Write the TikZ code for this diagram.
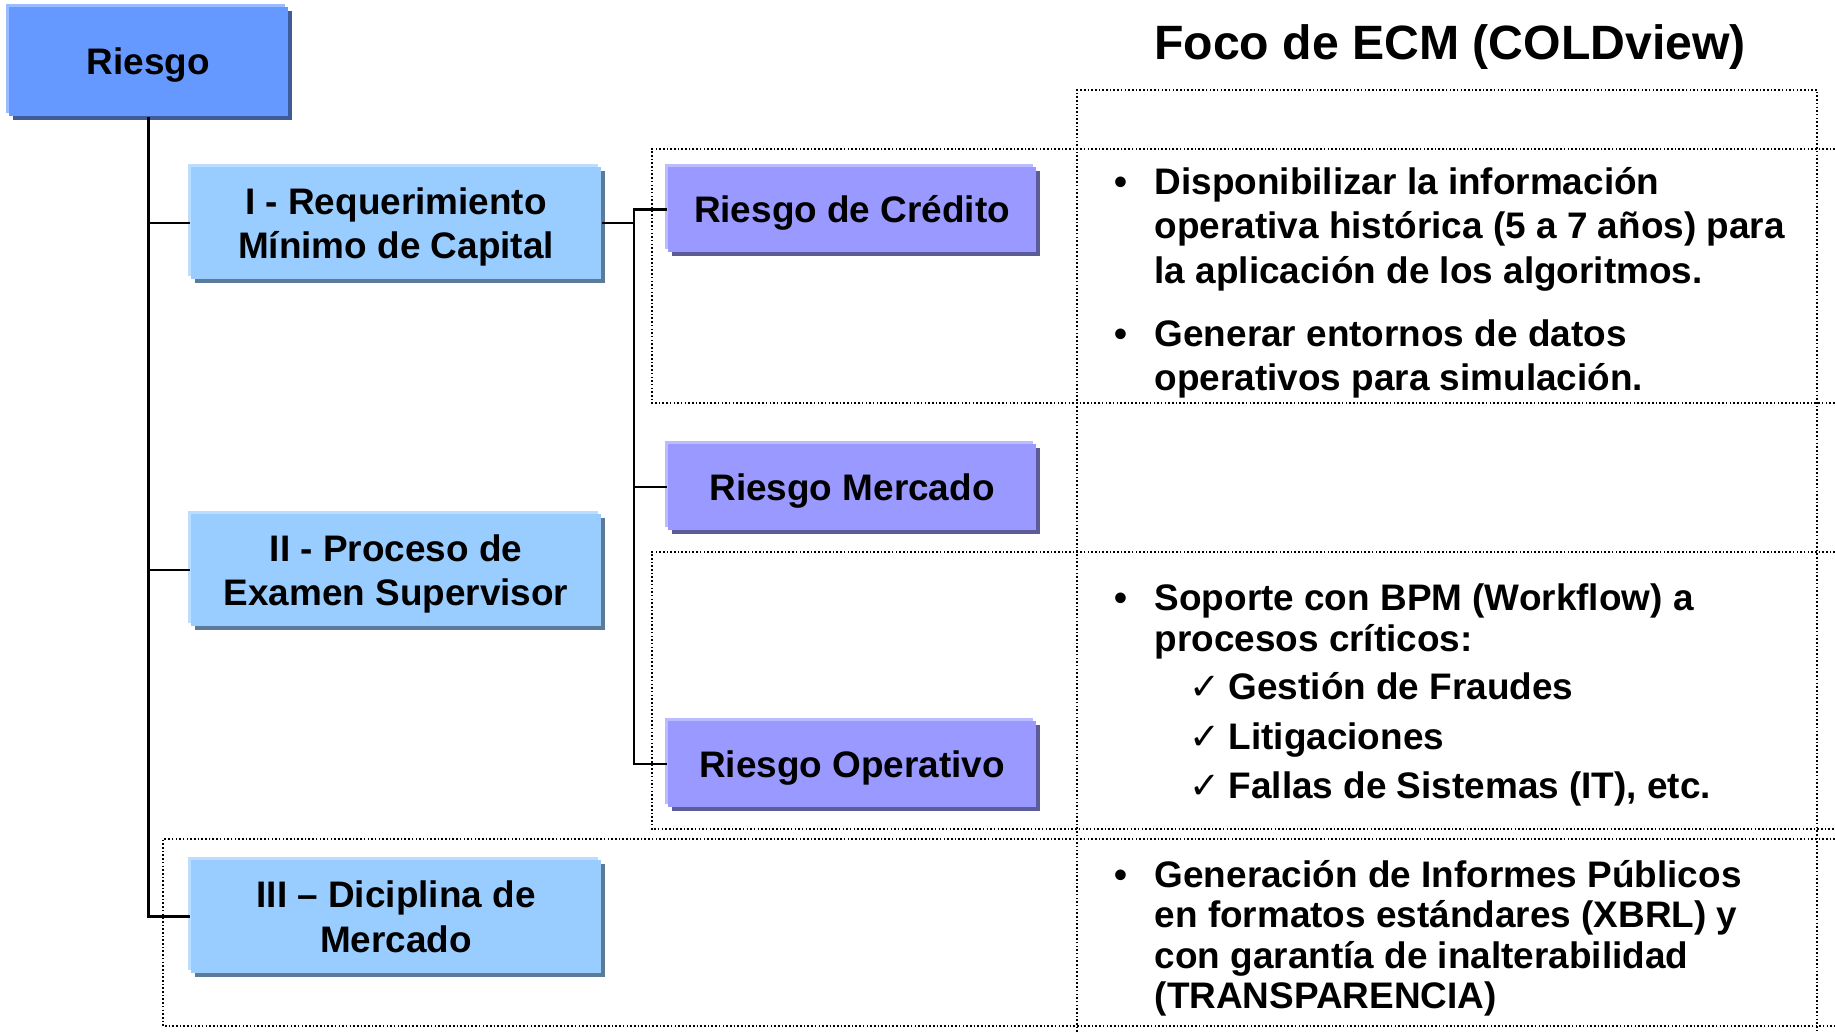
\documentclass[tikz,border=0pt]{standalone}
\usepackage{fontspec}
\setmainfont{Liberation Sans}
\newfontfamily\checkfont{DejaVu Sans}
\usepackage{tikz}
\usetikzlibrary{shadows}
\definecolor{rootfill}{HTML}{6699FF}
\definecolor{rootlight}{HTML}{99BBFF}
\definecolor{rootdark}{HTML}{3D5C99}
\definecolor{pillarfill}{HTML}{99CCFF}
\definecolor{pillarlight}{HTML}{BBDDFF}
\definecolor{pillardark}{HTML}{5C7A99}
\definecolor{riskfill}{HTML}{9999FF}
\definecolor{risklight}{HTML}{BBBBFF}
\definecolor{riskdark}{HTML}{5C5C99}

\begin{document}
\begin{tikzpicture}[x=0.01cm,y=-0.01cm,
  every node/.style={inner sep=0pt,font=\fontsize{10.5}{12.66}\selectfont\bfseries},
  bevel/.style n args={3}{fill=#1,
    general shadow={fill=#2,shadow xshift=-0.03cm,shadow yshift=0.03cm},
    general shadow={fill=#3,shadow xshift=0.04cm,shadow yshift=-0.04cm}},
  rootbox/.style={bevel={rootfill}{rootlight}{rootdark},minimum width=2.79cm,minimum height=1.09cm,text height=7.5pt,text depth=0pt},
  pillarbox/.style={bevel={pillarfill}{pillarlight}{pillardark},minimum width=4.10cm,minimum height=1.12cm,align=center,text depth=0pt},
  riskbox/.style={bevel={riskfill}{risklight}{riskdark},minimum width=3.68cm,minimum height=0.85cm,text height=7.5pt,text depth=0pt},
  link/.style={line width=0.6pt},
  cell/.style={line width=0.45pt,dash pattern=on 0.45pt off 0.6pt},
  bodytext/.style={anchor=base west,align=left},
  bullet/.style={anchor=base}]
\useasboundingbox (0,0) rectangle (1835,1032);
\draw[cell] (1077,1032) -- (1077,90) -- (1817,90) -- (1817,1032);
\draw[cell] (1835,149) -- (652,149) -- (652,403) -- (1835,403);
\draw[cell] (1835,552) -- (652,552) -- (652,829) -- (1835,829);
\draw[cell] (1835,839) -- (163,839) -- (163,1026) -- (1835,1026);
\node[font=\fontsize{13.7}{16}\selectfont\bfseries,anchor=base] (titulo) at (1450,59) {Foco de ECM (COLDview)};
\node[rootbox] (riesgo) at (148.5,61.5) {Riesgo};
\node[pillarbox] (pilarI) at (396,223) {I - Requerimiento\\Mínimo de Capital};
\node[pillarbox] (pilarII) at (396,570) {II - Proceso de\\Examen Supervisor};
\node[pillarbox] (pilarIII) at (396,916.5) {III – Diciplina de\\Mercado};
\node[riskbox] (credito) at (852,209.5) {Riesgo de Crédito};
\node[riskbox] (mercado) at (852,487) {Riesgo Mercado};
\node[riskbox] (operativo) at (852,764) {Riesgo Operativo};
\coordinate (bus) at (634,0);
\draw[link] (riesgo.south) |- (pilarIII.west);
\draw[link] (riesgo.south |- pilarI.west) -- (pilarI.west);
\draw[link] (riesgo.south |- pilarII.west) -- (pilarII.west);
\draw[link] (pilarI.east) -- (pilarI.east -| bus);
\draw[link] (credito.west) -| (bus |- operativo.west) -- (operativo.west);
\draw[link] (mercado.west) -- (mercado.west -| bus);
\node[bullet] (bala1) at (1121,194) {•};
\node[bodytext] (punto1) at (1154,283.3) {Disponibilizar la información\\operativa histórica (5 a 7 años) para\\la aplicación de los algoritmos.};
\node[bullet] (bala2) at (1121,346) {•};
\node[bodytext] (punto2) at (1154,390.7) {Generar entornos de datos\\operativos para simulación.};
\node[bullet] (bala3) at (1121,610) {•};
\node[bodytext,font=\fontsize{10.5}{11.7}\selectfont\bfseries] (punto3) at (1154,651.3) {Soporte con BPM (Workflow) a\\procesos críticos:};
\node[bullet] (check1) at (1205,699) {\checkfont\mdseries ✓};
\node[bodytext] (item1) at (1228,699) {Gestión de Fraudes};
\node[bullet] (check2) at (1205,749) {\checkfont\mdseries ✓};
\node[bodytext] (item2) at (1228,749) {Litigaciones};
\node[bullet] (check3) at (1205,798) {\checkfont\mdseries ✓};
\node[bodytext] (item3) at (1228,798) {Fallas de Sistemas (IT), etc.};
\node[bullet] (bala4) at (1121,887) {•};
\node[bodytext,font=\fontsize{10.5}{11.5}\selectfont\bfseries] (punto4) at (1154,1008.7) {Generación de Informes Públicos\\en formatos estándares (XBRL) y\\con garantía de inalterabilidad\\(TRANSPARENCIA)};
\end{tikzpicture}
\end{document}
